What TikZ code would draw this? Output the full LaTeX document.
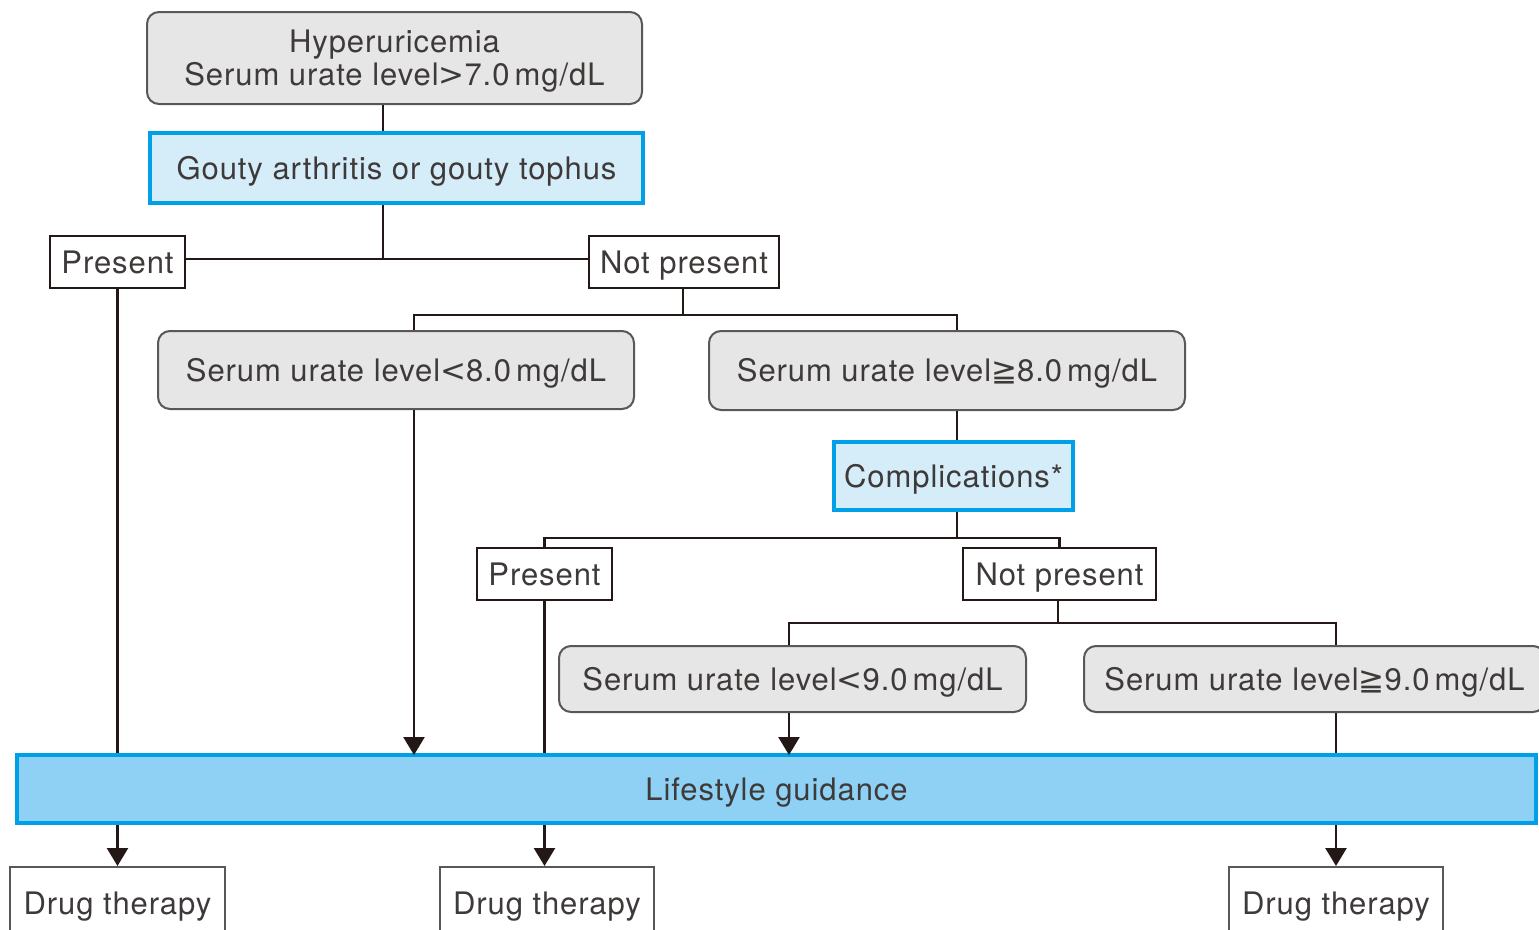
\documentclass[tikz,border=0pt]{standalone}
\usepackage{fontspec}
\setmainfont{TeX Gyre Heros}[LetterSpace=3]
\newfontfamily\symfont{DejaVu Sans}
\usetikzlibrary{arrows.meta}

\definecolor{inkline}{HTML}{231815}
\definecolor{inktext}{HTML}{3E3A39}
\definecolor{boxgray}{HTML}{E6E6E6}
\definecolor{edgegray}{HTML}{595757}
\definecolor{cyanedge}{HTML}{00A0E9}
\definecolor{paleblue}{HTML}{D5ECF9}
\definecolor{skyblue}{HTML}{8FD1F4}

\newcommand{\lessmark}{{\symfont <}}
\newcommand{\moremark}{{\symfont >}}
\newcommand{\geqqmark}{{\symfont ≧}}

\tikzset{
  every node/.style={font=\fontsize{31}{33}\selectfont, text=inktext, inner sep=0pt, align=center},
  oneline/.style={text height=22.3pt, text depth=0pt},
  graybox/.style={oneline, draw=edgegray, fill=boxgray, line width=2pt, rounded corners=12pt},
  bluebox/.style={oneline, draw=cyanedge, fill=paleblue, line width=4pt},
  answer/.style={oneline, draw=inkline, fill=white, line width=2.5pt},
  drugbox/.style={oneline, draw=edgegray, fill=white, line width=2pt},
  link/.style={draw=inkline, line width=2.5pt},
  tri/.style={-{Triangle[width=21pt,length=18pt]}}
}

\begin{document}
\begin{tikzpicture}[x=1pt,y=-1pt]
\useasboundingbox (0,0) rectangle (1539,929);
\clip (0,0) rectangle (1539,929);

% boxes
\node[draw=edgegray, fill=boxgray, line width=2pt, rounded corners=12pt, text depth=0pt, minimum width=495pt, minimum height=92pt] (hyper) at (394.5,58) {Hyperuricemia\\Serum urate level\moremark7.0\,mg/dL};
\node[bluebox, minimum width=493pt, minimum height=70pt] (gouty) at (396.5,168) {Gouty arthritis or gouty tophus};
\node[answer, minimum width=135pt, minimum height=52pt] (pres1) at (117.5,262) {Present};
\node[answer, minimum width=190pt, minimum height=52pt] (notp1) at (684,262) {Not present};
\node[graybox, minimum width=476pt, minimum height=78pt] (lt8) at (396,370) {Serum urate level\lessmark8.0\,mg/dL};
\node[graybox, minimum width=476pt, minimum height=79pt] (ge8) at (947,370.5) {Serum urate level\geqqmark8.0\,mg/dL};
\node[bluebox, minimum width=239pt, minimum height=68pt] (compl) at (953.5,476) {Complications*};
\node[answer, minimum width=135pt, minimum height=52pt] (pres2) at (544.5,574) {Present};
\node[answer, minimum width=193pt, minimum height=52pt] (notp2) at (1059.5,574) {Not present};
\node[graybox, minimum width=467pt, minimum height=66pt] (lt9) at (792.5,679) {Serum urate level\lessmark9.0\,mg/dL};
\node[graybox, minimum width=461pt, minimum height=66pt] (ge9) at (1314.5,679) {Serum urate level\geqqmark9.0\,mg/dL};
\node[oneline, draw=cyanedge, fill=skyblue, line width=4pt, minimum width=1519pt, minimum height=68pt] (life) at (776.5,789) {Lifestyle guidance};
\node[drugbox, minimum width=215pt, minimum height=73pt] (drug1) at (117.5,903.5) {Drug therapy};
\node[drugbox, minimum width=214pt, minimum height=73pt] (drug2) at (547,903.5) {Drug therapy};
\node[drugbox, minimum width=214pt, minimum height=73pt] (drug3) at (1336,903.5) {Drug therapy};

% branch points
\coordinate (j0) at (383,259);
\coordinate (j1) at (683,315);
\coordinate (a8) at (414,315);
\coordinate (b8) at (957,315);
\coordinate (j2) at (957,538);
\coordinate (j3) at (1058,623);
\coordinate (a9) at (789,623);
\coordinate (b9) at (1336,623);

% connectors
\draw[link] (hyper.south -| j0) -- (gouty.north -| j0);
\draw[link] (gouty.south -| j0) -- (j0);
\draw[link] (pres1.east |- j0) -- (notp1.west |- j0);
\draw[link] (pres1.south) -- (pres1.south |- life.north);
\draw[link] (notp1.south -| j1) -- (j1);
\draw[link] (lt8.north -| a8) -- (a8) -- (b8) -- (ge8.north -| b8);
\draw[link, tri] (lt8.south -| a8) -- ([yshift=-2pt]life.north -| a8);
\draw[link] (ge8.south -| b8) -- (compl.north -| b8);
\draw[link] (compl.south -| j2) -- (j2);
\draw[link] (pres2.north) -- (pres2.north |- j2) -- (notp2.north |- j2) -- (notp2.north);
\draw[link] (pres2.south) -- (pres2.south |- life.north);
\draw[link] (notp2.south -| j3) -- (j3);
\draw[link] (lt9.north -| a9) -- (a9) -- (b9) -- (ge9.north -| b9);
\draw[link, tri] (lt9.south -| a9) -- ([yshift=-2pt]life.north -| a9);
\draw[link] (ge9.south -| b9) -- (life.north -| b9);
\draw[link, tri] (life.south -| drug1) -- (drug1.north);
\draw[link, tri] (life.south -| pres2) -- (drug2.north -| pres2);
\draw[link, tri] (life.south -| drug3) -- (drug3.north);
\end{tikzpicture}
\end{document}
